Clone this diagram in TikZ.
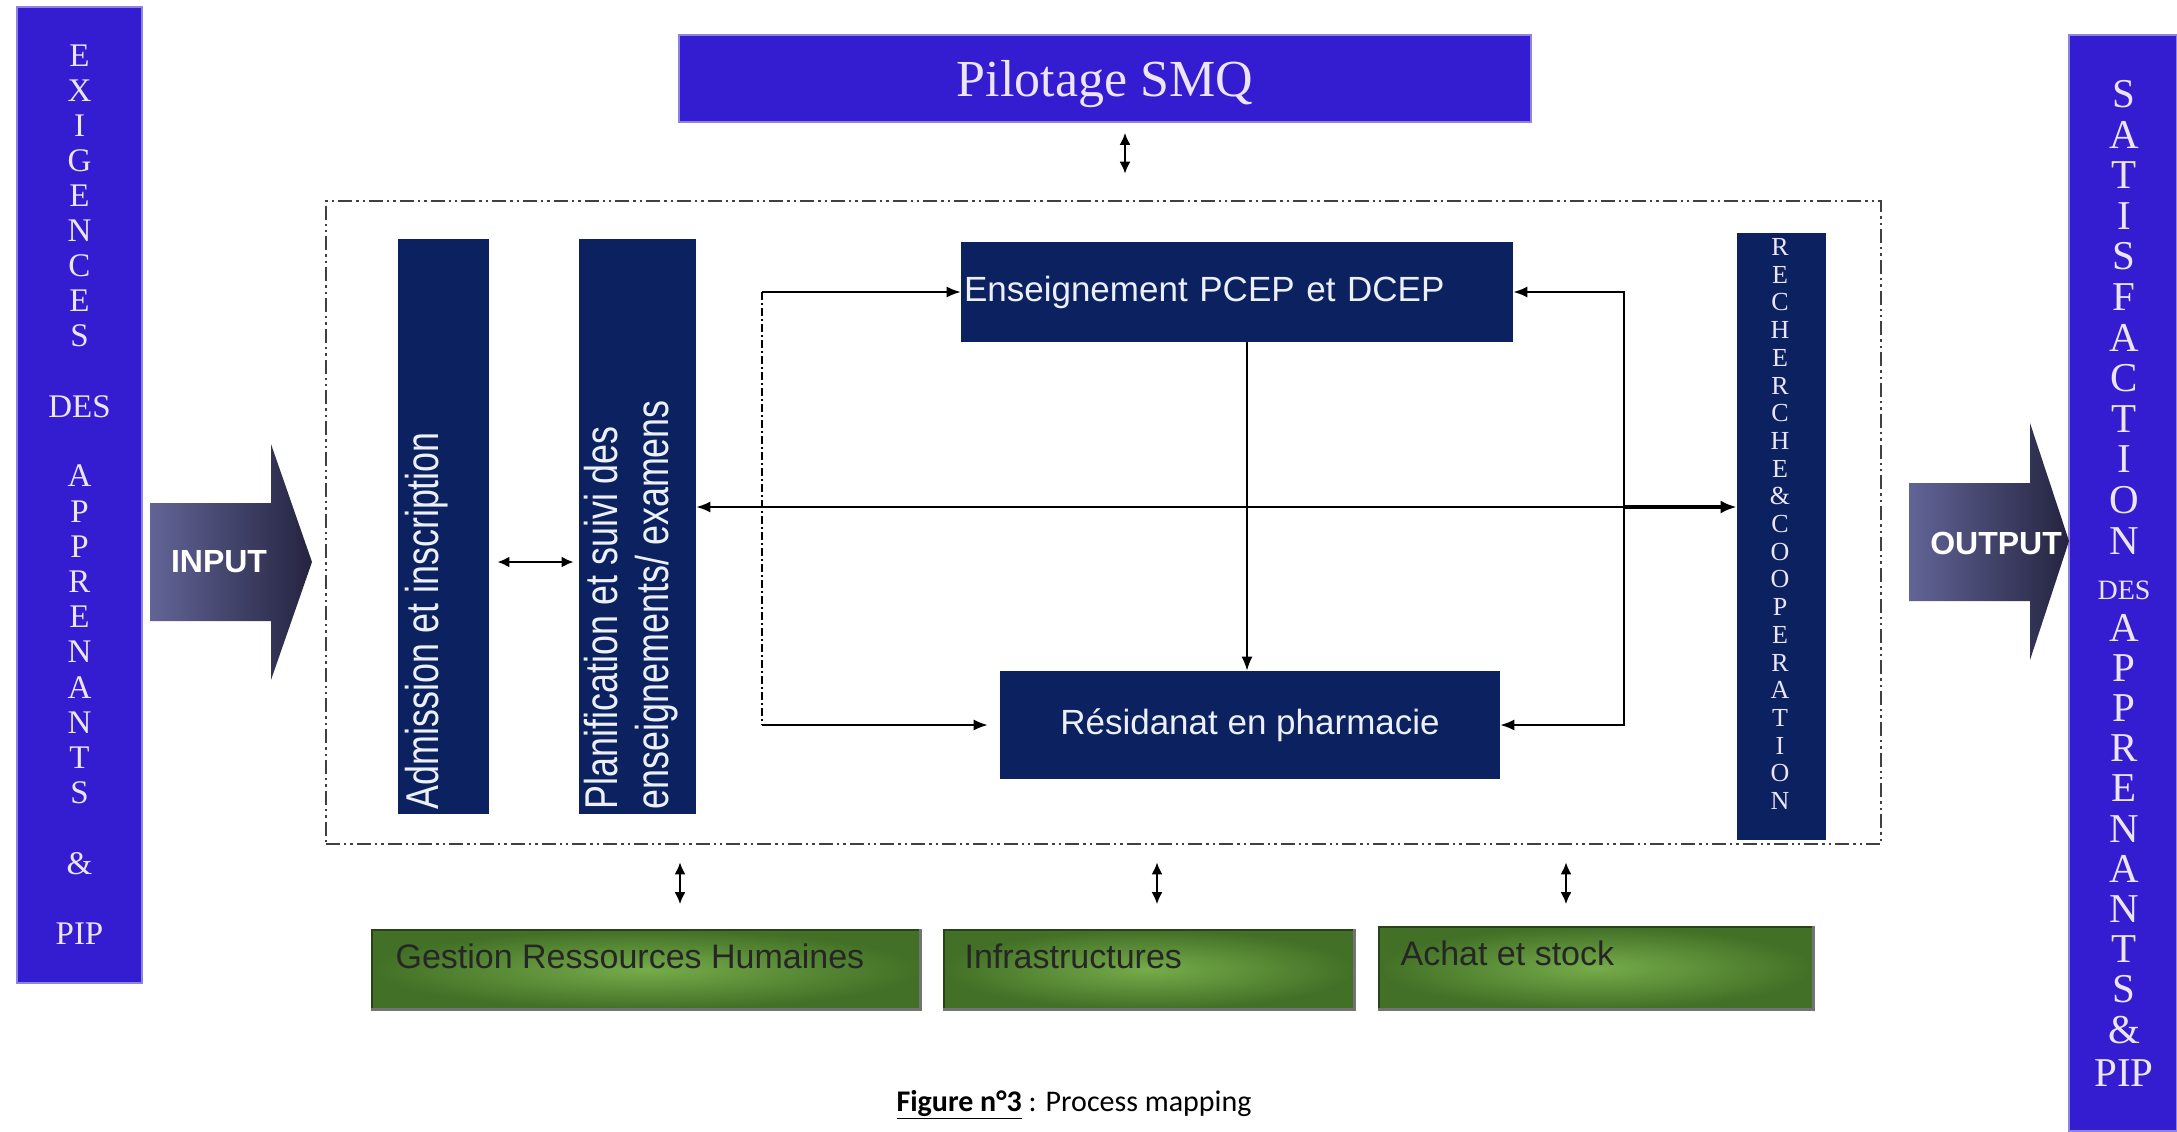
\documentclass[tikz,border=0pt]{standalone}
\usepackage{fontspec}
\setmainfont{Liberation Serif}
\setsansfont{Liberation Sans}
\newfontfamily\condsans[FakeStretch=0.78]{Liberation Sans}
\newfontfamily\capfont{Carlito}
\usetikzlibrary{arrows.meta}

\definecolor{smqblue}{RGB}{52,28,208}
\definecolor{navybg}{RGB}{12,33,96}
\definecolor{lav}{RGB}{236,228,248}
\definecolor{boxtext}{RGB}{236,240,250}
\definecolor{grdark}{RGB}{66,112,38}
\definecolor{grlight}{RGB}{118,172,74}
\definecolor{arrlight}{RGB}{98,100,150}
\definecolor{arrdark}{RGB}{36,36,64}

\tikzset{
	bluecol/.style={fill=smqblue, draw=smqblue!55!white, line width=0.8pt, inner sep=0pt},
	navybox/.style={fill=navybg, inner sep=0pt, text=boxtext, font=\sffamily\fontsize{17.5}{20}\selectfont},
	greenbox/.style={inner color=grlight, outer color=grdark, draw=grdark!60!black, line width=0.8pt, inner sep=0pt},
	grshadow/.style={draw=black!55, line width=1.5pt},
	grtext/.style={anchor=west, inner sep=0pt, text=black!85, font=\sffamily\fontsize{17}{20}\selectfont},
	vtext/.style={rotate=90, anchor=west, inner sep=0pt, text=boxtext, align=left, font=\condsans\fontsize{23}{25.5}\selectfont},
	lletter/.style={text=lav, inner sep=0pt, font=\fontsize{16.5}{18}\selectfont},
	rletter/.style={text=lav, inner sep=0pt, font=\fontsize{20.5}{22}\selectfont},
	sletter/.style={text=lav, inner sep=0pt, font=\fontsize{13}{15}\selectfont},
	link/.style={line width=0.8pt, -{Latex[length=7pt,width=5.5pt]}},
	updown/.style={line width=1.1pt, {Latex[length=6pt,width=5.5pt]}-{Latex[length=6pt,width=5.5pt]}},
	bigarrow/.style={left color=arrlight, right color=arrdark},
}

\begin{document}
\begin{tikzpicture}[x=0.5pt, y=-0.5pt]
	\useasboundingbox (0,0) rectangle (2177,1131);
	\fill[white] (0,0) rectangle (2177,1131);

	\node[bluecol, minimum width=62.5pt, minimum height=488pt] (lcol) at (79.5,495) {};
	\foreach \ch [count=\i from 0] in {E,X,I,G,E,N,C,E,S}
		\node[lletter] (lx\i) at (79.5,{55.5+35*\i}) {\ch};
	\node[lletter] (ldes) at (79.5,407) {DES};
	\foreach \ch [count=\i from 0] in {A,P,P,R,E,N,A,N,T,S}
		\node[lletter] (la\i) at (79.5,{476+35.2*\i}) {\ch};
	\node[lletter] (land) at (79.5,864) {\&};
	\node[lletter] (lpip) at (79.5,934) {PIP};

	\node[bluecol, minimum width=54pt, minimum height=548pt] (rcol) at (2123,583) {};
	\foreach \ch [count=\i from 0] in {S,A,T,I,S,F,A,C,T,I,O,N}
		\node[rletter] (rs\i) at (2124,{94+40.6*\i}) {\ch};
	\node[lletter, font=\fontsize{14}{16}\selectfont] (rdes) at (2124,590) {DES};
	\foreach \ch [count=\i from 0] in {A,P,P,R,E,N,A,N,T,S,\&}
		\node[rletter] (ra\i) at (2124,{627.6+40.2*\i}) {\ch};
	\node[rletter] (rpip) at (2124,1073) {PIP};

	\node[bluecol, minimum width=426pt, minimum height=43.5pt, text depth=0pt, text=lav, font=\fontsize{26}{30}\selectfont] (smq) at (1105,78.5) {Pilotage SMQ};

	\shade[bigarrow] (150,503) -- (271,503) -- (271,444) -- (312,562) -- (271,680) -- (271,621) -- (150,621) -- cycle;
	\node[text=white, font=\sffamily\bfseries\fontsize{16}{18}\selectfont] (input) at (219,562) {INPUT};
	\shade[bigarrow] (1909,483) -- (2030,483) -- (2030,423) -- (2069,541) -- (2030,660) -- (2030,601) -- (1909,601) -- cycle;
	\node[text=white, font=\sffamily\bfseries\fontsize{16}{18}\selectfont] (output) at (1996,543) {OUTPUT};

	\node[draw=black!75, line width=1.3pt, dash pattern=on 7pt off 2pt on 1.2pt off 2pt on 1.2pt off 2pt, minimum width=777.5pt, minimum height=321.5pt] (proc) at (1103.5,522.5) {};

	\node[navybox, minimum width=45.5pt, minimum height=287.5pt] (adm) at (443.5,526.5) {};
	\node[vtext] (admtxt) at ([xshift=-8.5pt,yshift=2.5pt]adm.south) {Admission et inscription};
	\node[navybox, minimum width=58.5pt, minimum height=287.5pt] (plan) at (637.5,526.5) {};
	\node[vtext] (plantxt) at ([xshift=-3pt,yshift=2.5pt]plan.south) {Planification et suivi des\\enseignements/ examens};

	\node[navybox, minimum width=276pt, minimum height=50pt, text width=273pt, align=left] (ens) at (1237,292) {Enseignement PCEP et DCEP};
	\node[navybox, minimum width=250pt, minimum height=54pt] (res) at (1250,725) {Résidanat en pharmacie};

	\node[navybox, minimum width=44.5pt, minimum height=303.5pt] (rech) at (1781.5,536.5) {};
	\foreach \ch [count=\i from 0] in {R,E,C,H,E,R,C,H,E,\&,C,O,O,P,E,R,A,T,I,O,N}
		\node[sletter] (rc\i) at (1780,{247+27.7*\i}) {\ch};

	\node[greenbox, minimum width=274pt, minimum height=39.5pt] (grh) at (646,969.5) {};
	\draw[grshadow] (grh.north east) -- (grh.south east) -- (grh.south west);
	\node[grtext] (grhtxt) at ([xshift=12pt,yshift=-13.5pt]grh.north west) {Gestion Ressources Humaines};
	\node[greenbox, minimum width=205pt, minimum height=39.5pt] (infra) at (1149,969.5) {};
	\draw[grshadow] (infra.north east) -- (infra.south east) -- (infra.south west);
	\node[grtext] (infratxt) at ([xshift=10.5pt,yshift=-13.5pt]infra.north west) {Infrastructures};
	\node[greenbox, minimum width=217pt, minimum height=41pt] (achat) at (1596,968) {};
	\draw[grshadow] (achat.north east) -- (achat.south east) -- (achat.south west);
	\node[grtext] (achattxt) at ([xshift=11pt,yshift=-13.5pt]achat.north west) {Achat et stock};

	\node[text=black, font=\capfont\fontsize{15}{18}\selectfont] (caption) at (1074,1105) {\underline{\textbf{Figure n°3}} : Process mapping};

	\coordinate (fork) at (762,507);
	\coordinate (loop) at (1624,507);

	\draw[updown, shorten <=5pt, shorten >=13pt] ([xshift=10pt]smq.south) -- ([xshift=10pt]smq.south |- proc.north);
	\draw[updown, shorten <=8.5pt, shorten >=12.5pt] ([xshift=17pt]grh.north |- proc.south) -- ([xshift=17pt]grh.north);
	\draw[updown, shorten <=8.5pt, shorten >=12.5pt] ([xshift=4pt]infra.north |- proc.south) -- ([xshift=4pt]infra.north);
	\draw[updown, shorten <=8.5pt, shorten >=11pt] ([xshift=-15pt]achat.north |- proc.south) -- ([xshift=-15pt]achat.north);

	\draw[updown, shorten <=4pt, shorten >=2.5pt] ([yshift=-17.75pt]adm.east) -- ([yshift=-17.75pt]plan.west);

	\draw[line width=0.6pt, dash pattern=on 4pt off 1.5pt on 1pt off 1.5pt] (fork |- ens.west) -- (fork |- res.west);
	\draw[link] (fork |- ens.west) -- (ens.west);
	\draw[link, shorten >=6pt] (fork |- res.west) -- (res.west);

	\draw[link] (loop) -- (loop -| plan.east);
	\draw[line width=2pt, -{Latex[length=8pt,width=6.5pt]}] (loop) -- (loop -| rech.west);
	\draw[link] (loop) |- (ens.east);
	\draw[link] (loop) |- (res.east);
	\draw[link] ([xshift=5pt]ens.south) -- ([xshift=5pt]ens.south |- res.north);
\end{tikzpicture}
\end{document}
